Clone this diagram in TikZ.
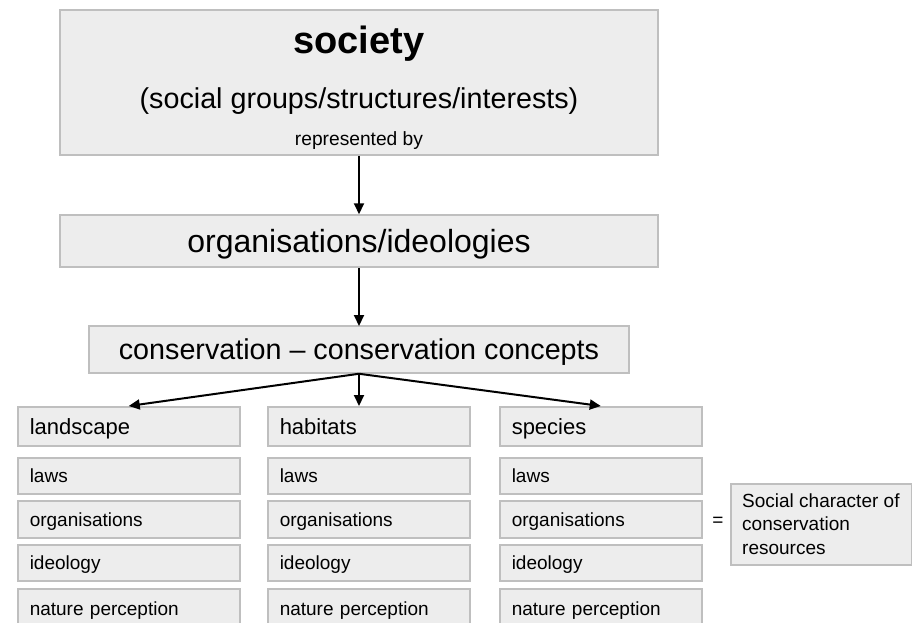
\documentclass[tikz,border=0pt]{standalone}
\usepackage{fontspec}
\setmainfont{Liberation Sans}
\usetikzlibrary{arrows.meta}
\definecolor{boxfill}{HTML}{EDEDED}
\definecolor{boxline}{HTML}{BFBFBF}
\tikzset{
  box/.style={draw=boxline, fill=boxfill, line width=1.5pt, inner sep=0pt},
  hdr/.style={box, anchor=north west, inner xsep=12pt, inner ysep=0pt, align=left,
    font=\fontsize{22}{26}\selectfont, text height=15.8pt, text depth=0pt, minimum height=39pt},
  cell/.style={box, anchor=north west, inner xsep=12pt, inner ysep=0pt, align=left,
    font=\fontsize{19}{23}\selectfont, text height=13.6pt, text depth=0pt},
  arr/.style={-{Triangle[length=11pt,width=10pt]}, line width=2pt, black},
  lbl/.style={inner sep=0pt, anchor=base}
}
\begin{document}
\begin{tikzpicture}[x=1pt, y=-1pt]
\useasboundingbox (0,0) rectangle (912,622);

% society box
\node[box, minimum width=598pt, minimum height=145pt] (society) at (359,82.5) {};
\node[lbl, font=\fontsize{38}{44}\selectfont\bfseries] (soctitle) at (359,53) {society};
\node[lbl, font=\fontsize{28.7}{34}\selectfont] (socsub) at (359,108) {(social groups/structures/interests)};
\node[lbl, font=\fontsize{19.2}{23}\selectfont] (repby) at (359,145) {represented by};

% organisations/ideologies
\node[box, minimum width=598pt, minimum height=52pt, font=\fontsize{32}{38}\selectfont,
  text height=22.9pt, text depth=0pt] (org) at (359,241) {organisations/ideologies};

% conservation
\node[box, minimum width=540pt, minimum height=47pt, font=\fontsize{28.7}{34}\selectfont,
  text height=20.5pt, text depth=0pt] (cons) at (359,349.5) {conservation – conservation concepts};

% columns
\foreach \c/\x/\tw/\t in {L/17/198/landscape, H/267/178/habitats, S/499/178/species} {
  \node[hdr, text width=\tw pt] (\c0) at (\x,406) {\t};
  \node[cell, text width=\tw pt, minimum height=36pt] (\c1) at (\x,457) {laws};
  \node[cell, text width=\tw pt, minimum height=37pt] (\c2) at (\x,500) {organisations};
  \node[cell, text width=\tw pt, minimum height=36pt] (\c3) at (\x,544) {ideology};
  \node[cell, text width=\tw pt, minimum height=40pt] (\c4) at (\x,588) {nature perception};
}

% equals and social character box
\node[inner sep=0pt, font=\fontsize{19}{23}\selectfont] (eq) at (718,522) {=};
\node[box, anchor=north west, minimum width=181pt, minimum height=81pt] (social) at (730,483) {};
\node[inner sep=0pt, anchor=base west, align=left, font=\fontsize{19}{23.5}\selectfont]
  (socialtext) at (742,554) {Social character of\\conservation\\resources};

% arrows
\draw[arr] (society.south) -- (org.north);
\draw[arr] (org.south) -- (cons.south |- 0,326);
\draw[arr] (cons.south) -- (L0.north);
\draw[arr] (cons.south) -- (cons.south |- H0.north);
\draw[arr] (cons.south) -- (S0.north);
\end{tikzpicture}
\end{document}
